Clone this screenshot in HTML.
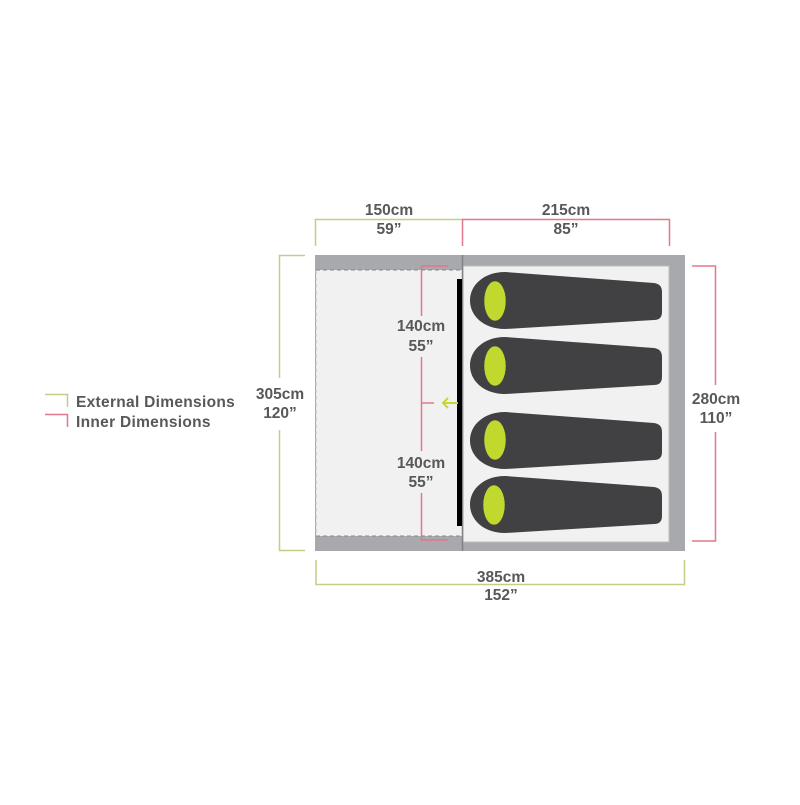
<!DOCTYPE html>
<html><head><style>body{margin:0;background:#fff}</style></head><body>
<svg width="800" height="800" viewBox="0 0 800 800" xmlns="http://www.w3.org/2000/svg" font-family="Liberation Sans, sans-serif" font-weight="bold" font-size="15.5" fill="#58585a">
<rect x="315" y="255" width="370" height="296" fill="#a7a9ac"/>
<rect x="316" y="270" width="146" height="266" fill="#f1f1f1"/>
<line x1="316" y1="270" x2="462" y2="270" stroke="#888" stroke-dasharray="4,3" stroke-width="1"/>
<line x1="316" y1="536" x2="462" y2="536" stroke="#888" stroke-dasharray="4,3" stroke-width="1"/>
<line x1="316" y1="270" x2="316" y2="536" stroke="#bbb" stroke-dasharray="4,3" stroke-width="1"/>
<rect x="463" y="266" width="206" height="276" fill="#f1f1f1" stroke="#bcbec0" stroke-width="1"/>
<line x1="462.5" y1="255" x2="462.5" y2="551" stroke="#808285" stroke-width="1.5"/>
<rect x="457" y="279" width="5" height="247" fill="#000"/>
<g fill="#414042">
<path d="M505 272 L654 283 Q662 284 662 292 L662 312 Q662 320 654 320 L505 329 C484 329 470 316 470 300.5 C470 285 484 272 505 272Z"/>
<path d="M505 337 L654 348 Q662 349 662 357 L662 377 Q662 385 654 385 L505 394 C484 394 470 381 470 365.5 C470 350 484 337 505 337Z"/>
<path d="M505 412 L654 423 Q662 424 662 432 L662 452 Q662 460 654 460 L505 469 C484 469 470 456 470 440.5 C470 425 484 412 505 412Z"/>
<path d="M505 476 L654 487 Q662 488 662 496 L662 516 Q662 524 654 524 L505 533 C484 533 470 520 470 504.5 C470 489 484 476 505 476Z"/>
</g>
<g fill="#c1d82f" stroke="#414042" stroke-width="0.5">
<ellipse cx="495" cy="301" rx="11" ry="20"/>
<ellipse cx="495" cy="366" rx="11" ry="20"/>
<ellipse cx="495" cy="440" rx="11" ry="20"/>
<ellipse cx="494" cy="505" rx="11" ry="20"/>
</g>
<g fill="none" stroke="#bfcf87" stroke-width="1.5">
<polyline points="315.5,246 315.5,219.5 462,219.5"/>
<polyline points="305,255.5 279.5,255.5 279.5,378"/>
<polyline points="305,550.5 279.5,550.5 279.5,430"/>
<polyline points="316,560 316,584.5 684.5,584.5 684.5,560"/>
<polyline points="45,394.5 67.5,394.5 67.5,407"/>
</g>
<g fill="none" stroke="#e0798a" stroke-width="1.5">
<polyline points="462.5,246 462.5,219.5 669.5,219.5 669.5,246"/>
<polyline points="692,266 715.5,266 715.5,385"/>
<polyline points="692,541 715.5,541 715.5,432"/>
<polyline points="448,266 421.5,266 421.5,316"/>
<polyline points="421.5,357 421.5,451"/>
<polyline points="421.5,493 421.5,540 448,540"/>
<line x1="421" y1="403" x2="434" y2="403"/>
<polyline points="45,414.5 67.5,414.5 67.5,427"/>
</g>
<g stroke="#c1d82f" stroke-width="2" fill="none"><line x1="443" y1="403" x2="458" y2="403"/><polyline points="448,398 443,403 448,408"/></g>
<g text-anchor="middle">
<text x="389" y="215">150cm</text><text x="389" y="234">59”</text>
<text x="566" y="215">215cm</text><text x="566" y="234">85”</text>
<text x="280" y="399">305cm</text><text x="280" y="418">120”</text>
<text x="716" y="404">280cm</text><text x="716" y="423">110”</text>
<text x="421" y="331">140cm</text><text x="421" y="351">55”</text>
<text x="421" y="468">140cm</text><text x="421" y="487">55”</text>
<text x="501" y="582">385cm</text><text x="501" y="600">152”</text>
</g>
<text x="76" y="407" letter-spacing="0.3">External Dimensions</text>
<text x="76" y="427" letter-spacing="0.3">Inner Dimensions</text>
</svg>
</body></html>
